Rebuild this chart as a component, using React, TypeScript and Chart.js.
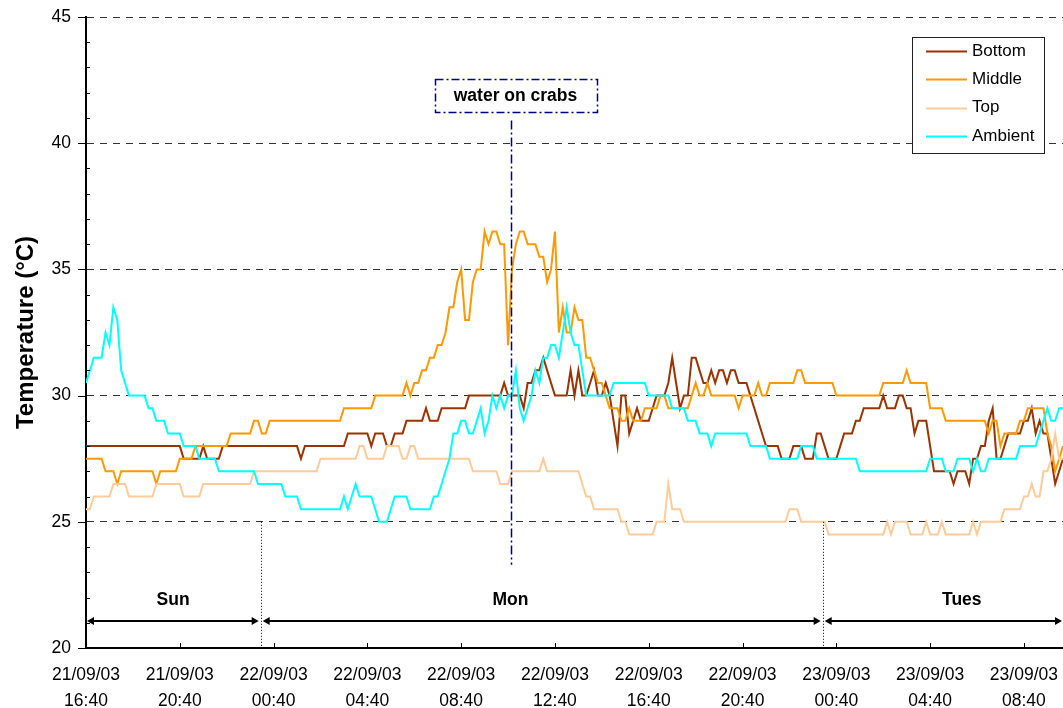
import React, { useEffect, useRef } from 'react';
import { Chart, registerables } from 'chart.js';

Chart.register(...registerables);

// ---------- data ----------
const SAMPLE_MINUTES = 10; // readings every 10 minutes from 21/09/03 16:40

const tickDates = ['21/09/03', '21/09/03', '22/09/03', '22/09/03', '22/09/03', '22/09/03', '22/09/03', '22/09/03', '23/09/03', '23/09/03', '23/09/03'];
const tickTimes = ['16:40', '20:40', '00:40', '04:40', '08:40', '12:40', '16:40', '20:40', '00:40', '04:40', '08:40'];
const tickMinutes = [0, 240, 480, 720, 960, 1200, 1440, 1680, 1920, 2160, 2400];
const yTicks = [20, 25, 30, 35, 40, 45];

const seriesNames = ['Bottom', 'Middle', 'Top', 'Ambient'];
const seriesColors = ['#993300', '#FF9900', '#FFCC99', '#00FFFF'];

const bottom = [
  28, 28, 28, 28, 28, 28, 28, 28, 28, 28,
  28, 28, 28, 28, 28, 28, 28, 28, 28, 28,
  28, 28, 28, 28, 28, 27.5, 27.5, 27.5, 27.5, 27.5,
  28, 27.5, 27.5, 27.5, 27.5, 28, 28, 28, 28, 28,
  28, 28, 28, 28, 28, 28, 28, 28, 28, 28,
  28, 28, 28, 28, 28, 27.5, 28, 28, 28, 28,
  28, 28, 28, 28, 28, 28, 28, 28.5, 28.5, 28.5,
  28.5, 28.5, 28.5, 28, 28.5, 28.5, 28.5, 28, 28, 28.5,
  28.5, 28.5, 29, 29, 29, 29, 29, 29.5, 29, 29,
  29, 29.5, 29.5, 29.5, 29.5, 29.5, 29.5, 29.5, 30, 30,
  30, 30, 30, 30, 30, 30, 30, 30.5, 30, 30,
  30, 30, 29.5, 30.5, 30.5, 31, 31, 31.5, 31, 30.5,
  30, 30, 30, 30, 31, 30, 31, 30, 30, 30.5,
  31, 30, 30, 30.5, 30, 29, 28, 30, 30, 28.5,
  29, 29.5, 29, 29, 29, 29.5, 30, 30, 30, 30.5,
  31.5, 30.5, 29.5, 30, 30, 31.5, 31.5, 31, 30.5, 30.5,
  31, 30.5, 31, 31, 30.5, 31, 31, 30.5, 30.5, 30.5,
  30, 29.5, 29, 28.5, 28, 28, 28, 28, 27.5, 27.5,
  27.5, 28, 28, 28, 27.5, 27.5, 27.5, 28.5, 28.5, 28,
  27.5, 27.5, 27.5, 28, 28.5, 28.5, 28.5, 29, 29, 29.5,
  29.5, 29.5, 29.5, 29.5, 30, 29.5, 29.5, 29.5, 30, 30,
  29.5, 29.5, 28.5, 29, 29, 29, 28, 27, 27, 27,
  27, 27, 26.5, 27, 27, 27, 26.5, 27.5, 27.5, 28,
  28, 29, 29.5, 27.5, 27.5, 28, 28.5, 28.5, 28.5, 28.5,
  29, 29, 29.5, 28.5, 29, 28.5, 28.5, 27.5, 26.5, 27,
  27.5,
];

const middle = [
  27.5, 27.5, 27.5, 27.5, 27.5, 27, 27, 27, 26.5, 27,
  27, 27, 27, 27, 27, 27, 27, 27, 26.5, 27,
  27, 27, 27, 27, 27.5, 27.5, 27.5, 27.5, 28, 28,
  28, 28, 28, 28, 28, 28, 28, 28.5, 28.5, 28.5,
  28.5, 28.5, 28.5, 29, 29, 28.5, 28.5, 29, 29, 29,
  29, 29, 29, 29, 29, 29, 29, 29, 29, 29,
  29, 29, 29, 29, 29, 29, 29.5, 29.5, 29.5, 29.5,
  29.5, 29.5, 29.5, 29.5, 30, 30, 30, 30, 30, 30,
  30, 30, 30.5, 30, 30.5, 30.5, 31, 31, 31.5, 31.5,
  32, 32, 32.5, 33.5, 33.5, 34.5, 35, 33, 33, 34.5,
  35, 35, 36.5, 36, 36.5, 36.5, 36, 36, 32, 35,
  36, 36.5, 36.5, 36, 36, 36, 35.5, 35.5, 34.5, 35,
  36.5, 32.5, 33.5, 32.5, 32.5, 33.5, 33, 33, 31.5, 31.5,
  31, 30.5, 30.5, 30, 29.5, 29.5, 29.5, 29, 29, 29.5,
  29, 29, 29, 29.5, 29.5, 29.5, 29.5, 30, 30, 29.5,
  29.5, 29.5, 29.5, 29.5, 29.5, 30, 30.5, 30, 30, 30.5,
  30, 30, 30, 30, 30, 30, 30, 29.5, 30, 30,
  30, 30, 30.5, 30, 30, 30.5, 30.5, 30.5, 30.5, 30.5,
  30.5, 30.5, 31, 31, 30.5, 30.5, 30.5, 30.5, 30.5, 30.5,
  30.5, 30.5, 30, 30, 30, 30, 30, 30, 30, 30,
  30, 30, 30, 30, 30.5, 30.5, 30.5, 30.5, 30.5, 30.5,
  31, 30.5, 30.5, 30.5, 30.5, 30.5, 29.5, 29.5, 29.5, 29.5,
  29, 29, 29, 29, 29, 29, 29, 29, 29, 29,
  29, 28.5, 29, 29, 28, 28.5, 28.5, 28.5, 28.5, 29,
  29, 29.5, 29.5, 29.5, 29.5, 29.5, 28.5, 28, 27, 27.5,
  28,
];

const top = [
  25.5, 25.5, 26, 26, 26, 26, 26, 26.5, 26.5, 26.5,
  26.5, 26, 26, 26, 26, 26, 26, 26, 26.5, 26.5,
  26.5, 26.5, 26.5, 26.5, 26.5, 26, 26, 26, 26, 26,
  26.5, 26.5, 26.5, 26.5, 26.5, 26.5, 26.5, 26.5, 26.5, 26.5,
  26.5, 26.5, 26.5, 27, 27, 27, 27, 27, 27, 27,
  27, 27, 27, 27, 27, 27, 27, 27, 27, 27,
  27.5, 27.5, 27.5, 27.5, 27.5, 27.5, 27.5, 27.5, 27.5, 27.5,
  28, 28, 27.5, 27.5, 27.5, 27.5, 27.5, 28, 28, 28,
  28, 27.5, 27.5, 28, 28, 27.5, 27.5, 27.5, 27.5, 27.5,
  27.5, 27.5, 27.5, 27.5, 27.5, 27.5, 27.5, 27.5, 27.5, 27,
  27, 27, 27, 27, 27, 27, 26.5, 26.5, 26.5, 27,
  27, 27, 27, 27, 27, 27, 27, 27.5, 27, 27,
  27, 27, 27, 27, 27, 27, 27, 26.5, 26, 26,
  25.5, 25.5, 25.5, 25.5, 25.5, 25.5, 25.5, 25, 25, 24.5,
  24.5, 24.5, 24.5, 24.5, 24.5, 24.5, 25, 25, 25, 26.5,
  25.5, 25.5, 25.5, 25, 25, 25, 25, 25, 25, 25,
  25, 25, 25, 25, 25, 25, 25, 25, 25, 25,
  25, 25, 25, 25, 25, 25, 25, 25, 25, 25,
  25.5, 25.5, 25.5, 25, 25, 25, 25, 25, 25, 25,
  24.5, 24.5, 24.5, 24.5, 24.5, 24.5, 24.5, 24.5, 24.5, 24.5,
  24.5, 24.5, 24.5, 24.5, 24.5, 25, 24.5, 25, 25, 25,
  25, 24.5, 24.5, 24.5, 24.5, 25, 24.5, 24.5, 24.5, 25,
  24.5, 24.5, 24.5, 24.5, 24.5, 24.5, 24.5, 25, 24.5, 25,
  25, 25, 25, 25, 25, 25.5, 25.5, 25.5, 25.5, 25.5,
  26, 26, 26.5, 26, 26, 27, 27, 27.5, 28.5, 27.5,
  27.5,
];

const ambient = [
  30.5, 31, 31.5, 31.5, 31.5, 32.5, 32, 33.5, 33, 31,
  30.5, 30, 30, 30, 30, 30, 29.5, 29.5, 29, 29,
  29, 28.5, 28.5, 28.5, 28.5, 28, 28, 28, 28, 27.5,
  27.5, 27.5, 27.5, 27.5, 27, 27, 27, 27, 27, 27,
  27, 27, 27, 27, 26.5, 26.5, 26.5, 26.5, 26.5, 26.5,
  26.5, 26, 26, 26, 26, 25.5, 25.5, 25.5, 25.5, 25.5,
  25.5, 25.5, 25.5, 25.5, 25.5, 25.5, 26, 25.5, 26, 26.5,
  26, 26, 26, 26, 25.5, 25, 25, 25, 25.5, 26,
  26, 26, 26, 25.5, 25.5, 25.5, 25.5, 25.5, 25.5, 26,
  26, 26.5, 27, 27.5, 28.5, 28.5, 29, 29, 28.5, 28.5,
  29, 29.5, 28.5, 29, 30, 29.5, 30, 29.5, 30, 30,
  31, 29.5, 29, 29.5, 30, 31, 30.5, 31.5, 31.5, 32,
  32, 31.5, 32.5, 33.5, 32.5, 32, 32, 31, 30, 30,
  30, 30, 30, 30, 30, 30.5, 30.5, 30.5, 30.5, 30.5,
  30.5, 30.5, 30.5, 30.5, 30, 30, 30, 30, 30, 30,
  29.5, 29.5, 29.5, 29.5, 29, 29, 29, 28.5, 28.5, 28.5,
  28, 28.5, 28.5, 28.5, 28.5, 28.5, 28.5, 28.5, 28.5, 28.5,
  28, 28, 28, 28, 28, 27.5, 27.5, 27.5, 27.5, 27.5,
  27.5, 27.5, 27.5, 28, 28, 28, 28, 27.5, 27.5, 27.5,
  27.5, 27.5, 27.5, 27.5, 27.5, 27.5, 27.5, 27.5, 27, 27,
  27, 27, 27, 27, 27, 27, 27, 27, 27, 27,
  27, 27, 27, 27, 27, 27, 27.5, 27.5, 27.5, 27.5,
  27, 27, 27, 27.5, 27.5, 27.5, 27.5, 27, 27.5, 27,
  27, 27.5, 27.5, 27.5, 27.5, 27.5, 27.5, 27.5, 27.5, 28,
  28, 28, 28, 28, 28.5, 29, 29.5, 29, 29, 29.5,
  29.5,
];

const seriesValues = [bottom, middle, top, ambient];

// annotations (in data units: minutes since start / °C)
const dayNames = ['Sun', 'Mon', 'Tues'];
const dayLabelMinutes = [223, 1086, 2241];
const dayBoundaryMinutes = [447, 1885];
const eventText = 'water on crabs';
const eventMinute = 1087;

// ---------- drawing ----------
const FONT = "'Liberation Sans', Arial, Helvetica, sans-serif";

function arrowHead(ctx: CanvasRenderingContext2D, tipX: number, yy: number, dir: number) {
  ctx.beginPath();
  ctx.moveTo(tipX, yy);
  ctx.lineTo(tipX - dir * 7, yy - 4);
  ctx.lineTo(tipX - dir * 7, yy + 4);
  ctx.closePath();
  ctx.fill();
}

const overlayPlugin = {
  id: 'overlay',
  afterDraw(chart: any) {
    const { ctx, chartArea: ca, scales } = chart;
    const x = scales.x;
    const y = scales.y;
    ctx.save();

    // y-axis tick marks: major outside, minor inside
    ctx.strokeStyle = '#000';
    ctx.lineWidth = 1;
    for (let v = yTicks[0]; v <= yTicks[yTicks.length - 1]; v += 1) {
      const py = Math.round(y.getPixelForValue(v)) + 0.5;
      ctx.beginPath();
      if (yTicks.includes(v)) {
        ctx.moveTo(ca.left - 8, py);
        ctx.lineTo(ca.left, py);
      } else {
        ctx.moveTo(ca.left, py);
        ctx.lineTo(ca.left + 4, py);
      }
      ctx.stroke();
    }
    // x-axis tick marks (inside)
    tickMinutes.forEach((m) => {
      const px = Math.round(x.getPixelForValue(m)) + 0.5;
      ctx.beginPath();
      ctx.moveTo(px, ca.bottom);
      ctx.lineTo(px, ca.bottom - 5);
      ctx.stroke();
    });

    // day boundaries (dotted)
    ctx.setLineDash([1, 2]);
    dayBoundaryMinutes.forEach((m) => {
      const px = Math.round(x.getPixelForValue(m)) + 0.5;
      ctx.beginPath();
      ctx.moveTo(px, y.getPixelForValue(25));
      ctx.lineTo(px, ca.bottom + 2);
      ctx.stroke();
    });
    ctx.setLineDash([]);

    // day arrows
    const ay = Math.round(y.getPixelForValue(21.05));
    const edges = [ca.left, ...dayBoundaryMinutes.map((m) => x.getPixelForValue(m)), ca.right];
    ctx.fillStyle = '#000';
    ctx.lineWidth = 2;
    for (let k = 0; k < dayNames.length; k++) {
      const sx = edges[k] + (k === 0 ? 1 : 2);
      const ex = edges[k + 1] - (k === dayNames.length - 1 ? 1 : 2);
      ctx.beginPath();
      ctx.moveTo(sx + 5, ay);
      ctx.lineTo(ex - 5, ay);
      ctx.stroke();
      arrowHead(ctx, sx, ay, -1);
      arrowHead(ctx, ex, ay, 1);
    }
    ctx.font = `bold 17.5px ${FONT}`;
    ctx.textAlign = 'center';
    ctx.textBaseline = 'middle';
    dayNames.forEach((d, k) => {
      ctx.fillText(d, x.getPixelForValue(dayLabelMinutes[k]), y.getPixelForValue(21.88));
    });

    // event line (dash-dot)
    const ex = Math.round(x.getPixelForValue(eventMinute)) + 0.5;
    ctx.strokeStyle = '#000080';
    ctx.lineWidth = 1.5;
    ctx.setLineDash([9, 3, 2, 3]);
    ctx.beginPath();
    ctx.moveTo(ex, y.getPixelForValue(40.9));
    ctx.lineTo(ex, y.getPixelForValue(23.3));
    ctx.stroke();

    // event label box
    const bw = 162;
    const bh = 33;
    const bcx = ex + 4;
    const bcy = y.getPixelForValue(41.88);
    ctx.setLineDash([]);
    ctx.fillStyle = '#fff';
    ctx.fillRect(bcx - bw / 2, bcy - bh / 2, bw, bh);
    ctx.setLineDash([8, 3, 2, 3]);
    ctx.strokeRect(Math.round(bcx - bw / 2) + 0.5, Math.round(bcy - bh / 2) + 0.5, bw, bh);
    ctx.setLineDash([]);
    ctx.fillStyle = '#000';
    ctx.font = `bold 17.5px ${FONT}`;
    ctx.fillText(eventText, bcx, bcy);

    // legend
    const lw = 132;
    const lh = 116;
    const lx = ca.right - 151;
    const ly = ca.top + 20;
    ctx.fillStyle = '#fff';
    ctx.fillRect(lx, ly, lw, lh);
    ctx.strokeStyle = '#222';
    ctx.lineWidth = 1;
    ctx.strokeRect(lx + 0.5, ly + 0.5, lw, lh);
    ctx.font = `17px ${FONT}`;
    ctx.textAlign = 'left';
    chart.data.datasets.forEach((ds: any, k: number) => {
      const yy = ly + 14 + k * 28.4;
      ctx.strokeStyle = ds.borderColor;
      ctx.lineWidth = 2;
      ctx.beginPath();
      ctx.moveTo(lx + 14, Math.round(yy) + 0.5);
      ctx.lineTo(lx + 55, Math.round(yy) + 0.5);
      ctx.stroke();
      ctx.fillStyle = '#000';
      ctx.fillText(ds.label, lx + 60, yy);
    });

    ctx.restore();
  },
};

export default function App() {
  const canvasRef = useRef<HTMLCanvasElement | null>(null);

  useEffect(() => {
    const canvas = canvasRef.current;
    if (!canvas) return;
    Chart.defaults.font.family = FONT;
    const minutes = bottom.map((_, i) => i * SAMPLE_MINUTES);

    const chart = new Chart(canvas, {
      type: 'line',
      data: {
        labels: minutes,
        datasets: seriesNames.map((name, k) => ({
          label: name,
          data: seriesValues[k],
          borderColor: seriesColors[k],
          backgroundColor: seriesColors[k],
          borderWidth: 2,
          pointRadius: 0,
          tension: 0,
          fill: false,
          order: seriesNames.length - 1 - k,
        })),
      },
      options: {
        responsive: false,
        devicePixelRatio: 1,
        animation: false,
        events: [],
        layout: { padding: { top: 17, left: 0, right: 0, bottom: 0 } },
        plugins: { legend: { display: false }, tooltip: { enabled: false }, title: { display: false } },
        scales: {
          x: {
            type: 'linear',
            min: 0,
            max: minutes[minutes.length - 1],
            afterBuildTicks: (s: any) => {
              s.ticks = tickMinutes.map((v) => ({ value: v }));
            },
            afterFit: (s: any) => {
              s.height = 60;
              s.paddingLeft = 0;
              s.paddingRight = 0;
            },
            grid: { display: false, drawTicks: false },
            border: { display: true, color: '#000', width: 2 },
            ticks: {
              autoSkip: false,
              maxRotation: 0,
              minRotation: 0,
              padding: 14,
              color: '#000',
              font: { size: 17.5, lineHeight: 1.49 },
              callback: (v: any) => {
                const k = tickMinutes.indexOf(Number(v));
                return k >= 0 ? [tickDates[k], tickTimes[k]] : '';
              },
            },
          },
          y: {
            type: 'linear',
            min: yTicks[0],
            max: yTicks[yTicks.length - 1],
            afterBuildTicks: (s: any) => {
              s.ticks = yTicks.map((v) => ({ value: v }));
            },
            afterFit: (s: any) => {
              s.width = 86;
              s.paddingTop = 0;
              s.paddingBottom = 0;
            },
            grid: { color: '#333', lineWidth: 1, drawTicks: false },
            border: { display: true, color: '#000', width: 2, dash: [7, 6] },
            ticks: { padding: 15, color: '#000', font: { size: 17.5 } },
            title: {
              display: true,
              text: 'Temperature (°C)',
              color: '#000',
              font: { size: 24, weight: 'bold' },
              padding: { top: 12, bottom: 0 },
            },
          },
        },
      },
      plugins: [overlayPlugin],
    } as any);

    return () => chart.destroy();
  }, []);

  return (
    <div style={{ position: 'fixed', left: 0, top: 0, width: 1063, height: 708, background: '#fff' }}>
      <canvas ref={canvasRef} width={1063} height={708} style={{ display: 'block' }} />
    </div>
  );
}
